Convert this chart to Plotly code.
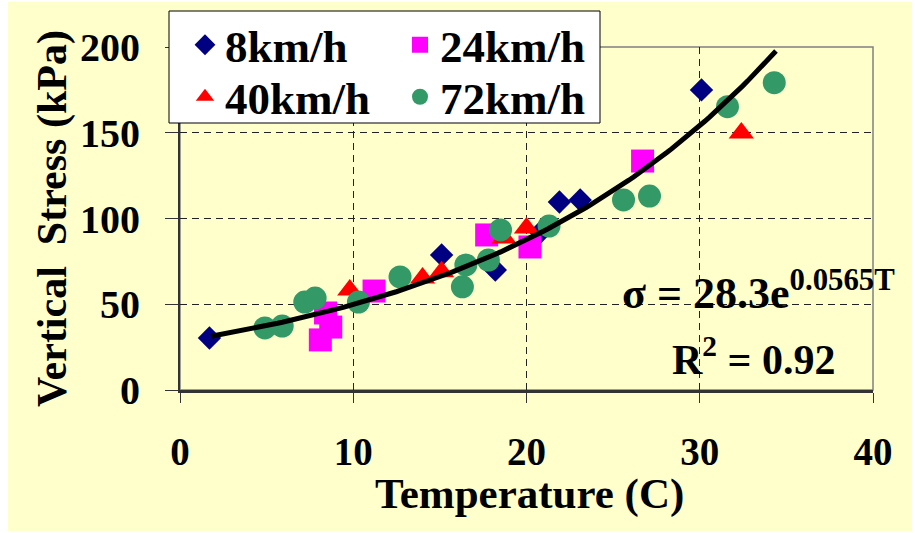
import numpy as np
import plotly.graph_objects as go

# ---------------- data ----------------
t_8 = [1.7, 15.1, 18.2, 20.8, 21.9, 23.1, 30.1]
s_8 = [30.3, 78.7, 70.0, 92.0, 109.6, 110.8, 175.0]

t_24 = [8.1, 8.7, 8.4, 11.2, 17.7, 20.2, 26.7]
s_24 = [29.2, 36.7, 44.9, 57.7, 90.4, 83.4, 133.5]

t_40 = [9.8, 14.0, 15.1, 18.7, 20.0, 32.4]
s_40 = [58.3, 65.3, 69.0, 88.6, 94.5, 149.9]

t_72 = [4.9, 5.9, 7.2, 7.8, 10.3, 12.7, 16.3, 16.5, 17.8, 18.5, 21.3, 25.6, 27.1, 31.6, 34.3]
s_72 = [36.2, 37.3, 51.3, 53.6, 51.3, 65.9, 60.2, 72.9, 75.8, 93.3, 95.6, 110.8, 113.1, 165.2, 179.2]

fit_a = 28.3
fit_b = 0.0565
fit_range = [1.8, 34.4]

x_ticks = [0, 10, 20, 30, 40]
y_ticks = [0, 50, 100, 150, 200]

FONT = "Liberation Serif, Times New Roman, serif"
BG = "#FFFFCC"

fig = go.Figure()

fig.add_trace(go.Scatter(x=t_8, y=s_8, mode="markers", name="8km/h", legend="legend",
                         marker=dict(symbol="diamond", size=18, color="#000080")))
fig.add_trace(go.Scatter(x=t_24, y=s_24, mode="markers", name="24km/h", legend="legend2",
                         marker=dict(symbol="square", size=23, color="#FF00FF")))
fig.add_trace(go.Scatter(x=t_40, y=s_40, mode="markers", name="40km/h", legend="legend3",
                         marker=dict(symbol="triangle-up", size=22, color="#FF0000")))
fig.add_trace(go.Scatter(x=t_72, y=s_72, mode="markers", name="72km/h", legend="legend4",
                         marker=dict(symbol="circle", size=23, color="#339966")))

tt = np.linspace(fit_range[0], fit_range[1], 120)
fig.add_trace(go.Scatter(x=tt, y=fit_a * np.exp(fit_b * tt), mode="lines",
                         line=dict(color="black", width=5), showlegend=False,
                         hoverinfo="skip"))

L, R, T, B = 180, 42, 47, 143
W, H = 915, 533
pw, ph = W - L - R, H - T - B

def px_x(p):
    return (p - L) / pw

def px_y(p):
    return (H - B - p) / ph

# background and frame
fig.add_shape(type="rect", xref="paper", yref="paper",
              x0=px_x(8), x1=px_x(912), y0=px_y(531), y1=px_y(2),
              fillcolor=BG, line=dict(width=0), layer="below")
fig.add_shape(type="rect", xref="paper", yref="paper",
              x0=0, x1=1, y0=0, y1=1,
              line=dict(color="#808080", width=1.5), layer="below")
# legend box
fig.add_shape(type="rect", xref="paper", yref="paper",
              x0=px_x(169), x1=px_x(600), y0=px_y(123), y1=px_y(11),
              fillcolor="white", line=dict(color="black", width=1), layer="above")

fig.add_annotation(xref="paper", yref="paper", x=px_x(620), y=px_y(290),
                   xanchor="left", yanchor="middle", showarrow=False,
                   text="σ = 28.3e<sup>0.0565T</sup>",
                   font=dict(family=FONT, size=44, color="black", weight="bold"))
fig.add_annotation(xref="paper", yref="paper", x=px_x(670), y=px_y(356),
                   xanchor="left", yanchor="middle", showarrow=False,
                   text="R<sup>2</sup> = 0.92",
                   font=dict(family=FONT, size=42, color="black", weight="bold"))
# x-axis title
fig.add_annotation(xref="paper", yref="paper", x=px_x(529), y=px_y(494),
                   xanchor="center", yanchor="middle", showarrow=False,
                   text="Temperature (C)",
                   font=dict(family=FONT, size=43, color="black", weight="bold"))

leg_font = dict(family=FONT, size=45, color="black", weight="bold")

def leg(xp, yp):
    return dict(x=px_x(xp), y=px_y(yp), xanchor="left", yanchor="middle",
                bgcolor="rgba(0,0,0,0)", borderwidth=0, font=leg_font,
                itemsizing="trace")

fig.update_layout(
    width=W, height=H,
    margin=dict(l=L, r=R, t=T, b=B, autoexpand=False),
    paper_bgcolor="white",
    plot_bgcolor="rgba(0,0,0,0)",
    font=dict(family=FONT, color="black", weight="bold"),
    showlegend=True,
    legend=leg(185, 45),
    legend2=leg(400, 45),
    legend3=leg(185, 97),
    legend4=leg(400, 97),
    xaxis=dict(range=[0, 40], tickvals=x_ticks, ticktext=[str(v) for v in x_ticks],
               showgrid=True, gridcolor="#222222", gridwidth=1, griddash="7px,5px",
               zeroline=False, showline=True, linecolor="#333333", linewidth=2.5,
               ticks="outside", ticklen=10, tickcolor="#333333", tickwidth=1,
               ticklabelstandoff=15, automargin=False,
               tickfont=dict(family=FONT, size=39, color="black", weight="bold")),
    yaxis=dict(range=[0, 200], tickvals=y_ticks, ticktext=[str(v) for v in y_ticks],
               showgrid=True, gridcolor="#222222", gridwidth=1, griddash="7px,5px",
               zeroline=False, showline=True, linecolor="#333333", linewidth=2,
               ticks="outside", ticklen=13, tickcolor="#333333", tickwidth=1,
               ticklabelstandoff=17, automargin=False,
               tickfont=dict(family=FONT, size=40, color="black", weight="bold"),
               title=dict(text="Vertical  Stress (kPa)", standoff=0,
                          font=dict(family=FONT, size=42, color="black", weight="bold"))),
)

fig.write_html("out.html", config={"displayModeBar": False},
               post_script="document.body.style.margin='0';document.body.style.overflow='hidden';")
